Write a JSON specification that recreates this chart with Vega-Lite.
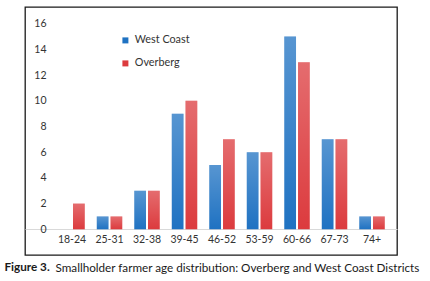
{
  "$schema": "https://vega.github.io/schema/vega-lite/v6.json",
  "autosize": {"type": "none"},
  "padding": {"left": 25, "top": 7, "right": 33, "bottom": 26},
  "width": 372,
  "height": 248,
  "background": "white",
  "config": {
    "view": {"stroke": "#1a1a1a", "strokeWidth": 1.3},
    "font": "Lato"
  },
  "data": {
    "values": [
      {"age": "18-24", "district": "West Coast", "count": 0},
      {"age": "18-24", "district": "Overberg", "count": 2},
      {"age": "25-31", "district": "West Coast", "count": 1},
      {"age": "25-31", "district": "Overberg", "count": 1},
      {"age": "32-38", "district": "West Coast", "count": 3},
      {"age": "32-38", "district": "Overberg", "count": 3},
      {"age": "39-45", "district": "West Coast", "count": 9},
      {"age": "39-45", "district": "Overberg", "count": 10},
      {"age": "46-52", "district": "West Coast", "count": 5},
      {"age": "46-52", "district": "Overberg", "count": 7},
      {"age": "53-59", "district": "West Coast", "count": 6},
      {"age": "53-59", "district": "Overberg", "count": 6},
      {"age": "60-66", "district": "West Coast", "count": 15},
      {"age": "60-66", "district": "Overberg", "count": 13},
      {"age": "67-73", "district": "West Coast", "count": 7},
      {"age": "67-73", "district": "Overberg", "count": 7},
      {"age": "74+", "district": "West Coast", "count": 1},
      {"age": "74+", "district": "Overberg", "count": 1}
    ]
  },
  "encoding": {
    "x": {
      "field": "age",
      "type": "nominal",
      "sort": null,
      "scale": {"paddingInner": 0.32, "paddingOuter": 0.62, "align": 0.737},
      "axis": {
        "orient": "bottom",
        "offset": -26,
        "labelAngle": 0,
        "labelFontSize": 10.5,
        "labelColor": "#333333",
        "labelPadding": 10,
        "labelBaseline": "middle",
        "ticks": false,
        "domainColor": "#d9d9d9",
        "domainWidth": 1,
        "title": "Smallholder farmer age distribution: Overberg and West Coast Districts",
        "titleFontSize": 11.7,
        "titleFontWeight": "normal",
        "titleColor": "#1a1a1a",
        "titleAnchor": "start",
        "titleAlign": "left",
        "titleBaseline": "middle",
        "titleX": 30,
        "titleY": 38
      }
    },
    "xOffset": {
      "field": "district",
      "type": "nominal",
      "scale": {"domain": ["West Coast", "Overberg"], "paddingInner": 0.145}
    },
    "y": {
      "field": "count",
      "type": "quantitative",
      "scale": {"domain": [-2.0, 17.3], "nice": false, "zero": false},
      "axis": {
        "values": [0, 2, 4, 6, 8, 10, 12, 14, 16],
        "offset": -23,
        "grid": false,
        "domain": false,
        "ticks": false,
        "labelPadding": 2,
        "labelFontSize": 10.5,
        "labelColor": "#333333",
        "title": "Figure 3.",
        "titleAngle": 0,
        "titleFontSize": 11.7,
        "titleFontWeight": "bold",
        "titleColor": "#1a1a1a",
        "titleAlign": "left",
        "titleAnchor": "start",
        "titleBaseline": "middle",
        "titleX": -44,
        "titleY": 259.7
      }
    }
  },
  "layer": [
    {
      "mark": {"type": "bar"},
      "encoding": {
        "color": {
          "field": "district",
          "type": "nominal",
          "scale": {"domain": ["West Coast", "Overberg"], "range": ["#1f72c2", "#dc3b3e"]},
          "legend": {
            "title": null,
            "orient": "none",
            "legendX": 95,
            "legendY": 28,
            "symbolType": "square",
            "symbolSize": 36,
            "symbolStrokeWidth": 0,
            "labelFontSize": 10.8,
            "labelColor": "#333333",
            "labelOffset": 4,
            "rowPadding": 11
          }
        }
      }
    },
    {
      "mark": {
        "type": "bar",
        "color": {
          "gradient": "linear",
          "x1": 0, "y1": 0, "x2": 0, "y2": 1,
          "stops": [
            {"offset": 0, "color": "rgba(255,255,255,0.25)"},
            {"offset": 1, "color": "rgba(255,255,255,0)"}
          ]
        }
      }
    }
  ]
}
